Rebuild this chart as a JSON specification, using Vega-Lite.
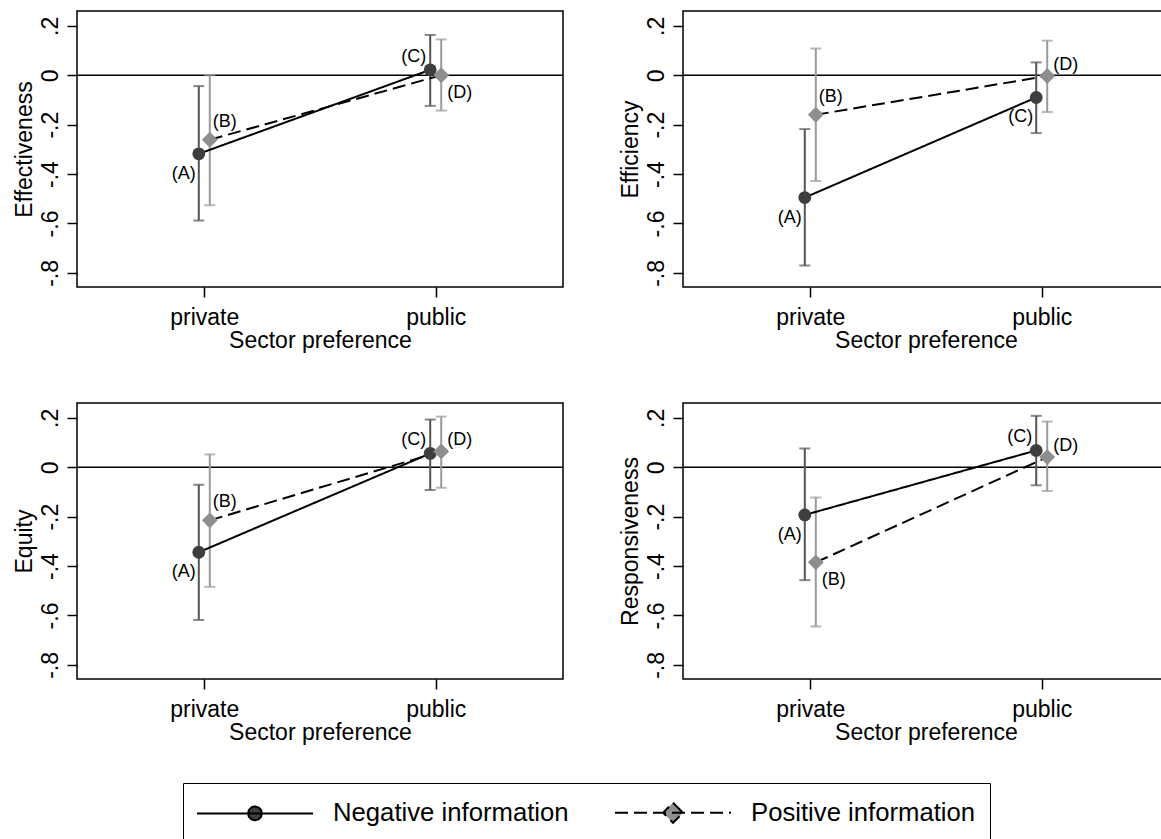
{
  "$schema": "https://vega.github.io/schema/vega-lite/v6.json",
  "padding": {"left": 12, "top": 10, "right": 0, "bottom": 0},
  "background": "white",
  "data": {"values": [
    {"panel": "Effectiveness", "sector": "private", "series": "Negative information", "est": -0.318, "lo": -0.588, "hi": -0.044, "lab": "(A)", "pos": "SW"},
    {"panel": "Effectiveness", "sector": "private", "series": "Positive information", "est": -0.261, "lo": -0.526, "hi": 0.0, "lab": "(B)", "pos": "NE"},
    {"panel": "Effectiveness", "sector": "public", "series": "Negative information", "est": 0.022, "lo": -0.124, "hi": 0.163, "lab": "(C)", "pos": "NW"},
    {"panel": "Effectiveness", "sector": "public", "series": "Positive information", "est": 0.0, "lo": -0.143, "hi": 0.145, "lab": "(D)", "pos": "SE"},
    {"panel": "Efficiency", "sector": "private", "series": "Negative information", "est": -0.495, "lo": -0.77, "hi": -0.218, "lab": "(A)", "pos": "SW"},
    {"panel": "Efficiency", "sector": "private", "series": "Positive information", "est": -0.16, "lo": -0.428, "hi": 0.108, "lab": "(B)", "pos": "NE"},
    {"panel": "Efficiency", "sector": "public", "series": "Negative information", "est": -0.09, "lo": -0.234, "hi": 0.052, "lab": "(C)", "pos": "SW"},
    {"panel": "Efficiency", "sector": "public", "series": "Positive information", "est": -0.003, "lo": -0.149, "hi": 0.14, "lab": "(D)", "pos": "E"},
    {"panel": "Equity", "sector": "private", "series": "Negative information", "est": -0.344, "lo": -0.618, "hi": -0.071, "lab": "(A)", "pos": "SW"},
    {"panel": "Equity", "sector": "private", "series": "Positive information", "est": -0.215, "lo": -0.484, "hi": 0.052, "lab": "(B)", "pos": "NE"},
    {"panel": "Equity", "sector": "public", "series": "Negative information", "est": 0.056, "lo": -0.092, "hi": 0.193, "lab": "(C)", "pos": "NW"},
    {"panel": "Equity", "sector": "public", "series": "Positive information", "est": 0.064, "lo": -0.083, "hi": 0.205, "lab": "(D)", "pos": "E"},
    {"panel": "Responsiveness", "sector": "private", "series": "Negative information", "est": -0.193, "lo": -0.457, "hi": 0.076, "lab": "(A)", "pos": "SW"},
    {"panel": "Responsiveness", "sector": "private", "series": "Positive information", "est": -0.385, "lo": -0.645, "hi": -0.122, "lab": "(B)", "pos": "SE"},
    {"panel": "Responsiveness", "sector": "public", "series": "Negative information", "est": 0.068, "lo": -0.073, "hi": 0.208, "lab": "(C)", "pos": "NW"},
    {"panel": "Responsiveness", "sector": "public", "series": "Positive information", "est": 0.041, "lo": -0.096, "hi": 0.185, "lab": "(D)", "pos": "E"}
  ]},
  "vconcat": [
    {"hconcat": [
      {"width": 486, "height": 276, "transform": [{"filter": "datum.panel === 'Effectiveness'"}],
       "layer": [
        {"transform": [{"filter": "datum.lab === '(A)'"}], "mark": {"type": "rule", "color": "black", "strokeWidth": 1.5}, "encoding": {"y": {"datum": 0, "type": "quantitative"}}},
        {"mark": {"type": "rule", "strokeWidth": 2, "xOffset": {"expr": "datum.series === 'Negative information' ? -5.5 : 5.5"}}, "encoding": {"x": {"field": "sector", "type": "nominal", "scale": {"type": "point", "padding": 0.55, "domain": ["private", "public"]}, "axis": {"title": "Sector preference"}}, "y": {"field": "lo", "type": "quantitative", "scale": {"domain": [-0.857, 0.26], "nice": false, "zero": false}, "axis": {"title": "Effectiveness"}}, "y2": {"field": "hi"}, "stroke": {"field": "series", "type": "nominal", "scale": {"range": ["#555555", "#9a9a9a"]}, "legend": null}}},
        {"mark": {"type": "tick", "orient": "horizontal", "size": 11, "thickness": 2, "xOffset": {"expr": "datum.series === 'Negative information' ? -5.5 : 5.5"}}, "encoding": {"x": {"field": "sector", "type": "nominal"}, "y": {"field": "lo", "type": "quantitative"}, "color": {"field": "series", "type": "nominal", "scale": {"range": ["#555555", "#9a9a9a"]}, "legend": null}}},
        {"mark": {"type": "tick", "orient": "horizontal", "size": 11, "thickness": 2, "xOffset": {"expr": "datum.series === 'Negative information' ? -5.5 : 5.5"}}, "encoding": {"x": {"field": "sector", "type": "nominal"}, "y": {"field": "hi", "type": "quantitative"}, "color": {"field": "series", "type": "nominal", "legend": null}}},
        {"mark": {"type": "line", "color": "black", "strokeWidth": 2, "xOffset": {"expr": "datum.series === 'Negative information' ? -5.5 : 5.5"}}, "encoding": {"x": {"field": "sector", "type": "nominal"}, "y": {"field": "est", "type": "quantitative"}, "strokeDash": {"field": "series", "type": "nominal", "scale": {"domain": ["Negative information", "Positive information"], "range": [[1, 0], [13, 6]]}, "legend": {
          "orient": "none", "legendX": 106, "legendY": 772, "direction": "horizontal", "title": null,
          "strokeColor": "black", "fillColor": "white", "padding": 14, "labelFontSize": 25.7, "labelFont": "Liberation Sans", "labelColor": "black", "labelLimit": 0,
          "symbolSize": 841, "symbolOffset": 42.5, "labelOffset": 62.5, "columnPadding": 42, "symbolStrokeWidth": 2, "symbolStrokeColor": "black",
          "encoding": {"symbols": {
            "shape": {"value": {"expr": "datum.value === 'Negative information' ? 'M-4,0H4M0.48,0L0.416,0.24L0.24,0.416L0,0.48L-0.24,0.416L-0.416,0.24L-0.48,0L-0.416,-0.24L-0.24,-0.416L0,-0.48L0.24,-0.416L0.416,-0.24Z' : 'M-4,0H4M0,-0.69L0.69,0L0,0.69L-0.69,0Z'"}},
            "fill": {"value": {"expr": "datum.value === 'Negative information' ? '#3e3e3e' : '#8e8e8e'"}},
            "stroke": {"value": "black"},
            "strokeWidth": {"value": 2},
            "opacity": {"value": 1}
          }}
        }}}},
        {"mark": {"type": "point", "filled": true, "opacity": 1, "strokeWidth": 0, "xOffset": {"expr": "datum.series === 'Negative information' ? -5.5 : 5.5"}}, "encoding": {"x": {"field": "sector", "type": "nominal"}, "y": {"field": "est", "type": "quantitative"}, "shape": {"field": "series", "type": "nominal", "scale": {"range": ["circle", "diamond"]}, "legend": null}, "fill": {"field": "series", "type": "nominal", "scale": {"range": ["#3e3e3e", "#8e8e8e"]}, "legend": null}, "size": {"field": "series", "type": "ordinal", "scale": {"range": [165, 250]}, "legend": null}}},
        {"transform": [{"filter": "datum.pos === 'SW'"}], "mark": {"type": "text", "align": "right", "baseline": "middle", "dx": -3, "dy": 20, "fontSize": 18, "xOffset": {"expr": "datum.series === 'Negative information' ? -5.5 : 5.5"}}, "encoding": {"x": {"field": "sector", "type": "nominal"}, "y": {"field": "est", "type": "quantitative"}, "text": {"field": "lab"}}},
        {"transform": [{"filter": "datum.pos === 'NE'"}], "mark": {"type": "text", "align": "left", "baseline": "middle", "dx": 3, "dy": -18, "fontSize": 18, "xOffset": {"expr": "datum.series === 'Negative information' ? -5.5 : 5.5"}}, "encoding": {"x": {"field": "sector", "type": "nominal"}, "y": {"field": "est", "type": "quantitative"}, "text": {"field": "lab"}}},
        {"transform": [{"filter": "datum.pos === 'E'"}], "mark": {"type": "text", "align": "left", "baseline": "middle", "dx": 6, "dy": -11, "fontSize": 18, "xOffset": {"expr": "datum.series === 'Negative information' ? -5.5 : 5.5"}}, "encoding": {"x": {"field": "sector", "type": "nominal"}, "y": {"field": "est", "type": "quantitative"}, "text": {"field": "lab"}}},
        {"transform": [{"filter": "datum.pos === 'NW'"}], "mark": {"type": "text", "align": "right", "baseline": "middle", "dx": -4, "dy": -13, "fontSize": 18, "xOffset": {"expr": "datum.series === 'Negative information' ? -5.5 : 5.5"}}, "encoding": {"x": {"field": "sector", "type": "nominal"}, "y": {"field": "est", "type": "quantitative"}, "text": {"field": "lab"}}},
        {"transform": [{"filter": "datum.pos === 'SE'"}], "mark": {"type": "text", "align": "left", "baseline": "middle", "dx": 6, "dy": 18, "fontSize": 18, "xOffset": {"expr": "datum.series === 'Negative information' ? -5.5 : 5.5"}}, "encoding": {"x": {"field": "sector", "type": "nominal"}, "y": {"field": "est", "type": "quantitative"}, "text": {"field": "lab"}}}
       ]},
      {"width": 486, "height": 276, "transform": [{"filter": "datum.panel === 'Efficiency'"}],
       "layer": [
        {"transform": [{"filter": "datum.lab === '(A)'"}], "mark": {"type": "rule", "color": "black", "strokeWidth": 1.5}, "encoding": {"y": {"datum": 0, "type": "quantitative"}}},
        {"mark": {"type": "rule", "strokeWidth": 2, "xOffset": {"expr": "datum.series === 'Negative information' ? -5.5 : 5.5"}}, "encoding": {"x": {"field": "sector", "type": "nominal", "scale": {"type": "point", "padding": 0.55, "domain": ["private", "public"]}, "axis": {"title": "Sector preference"}}, "y": {"field": "lo", "type": "quantitative", "scale": {"domain": [-0.857, 0.26], "nice": false, "zero": false}, "axis": {"title": "Efficiency"}}, "y2": {"field": "hi"}, "stroke": {"field": "series", "type": "nominal", "legend": null}}},
        {"mark": {"type": "tick", "orient": "horizontal", "size": 11, "thickness": 2, "xOffset": {"expr": "datum.series === 'Negative information' ? -5.5 : 5.5"}}, "encoding": {"x": {"field": "sector", "type": "nominal"}, "y": {"field": "lo", "type": "quantitative"}, "color": {"field": "series", "type": "nominal", "legend": null}}},
        {"mark": {"type": "tick", "orient": "horizontal", "size": 11, "thickness": 2, "xOffset": {"expr": "datum.series === 'Negative information' ? -5.5 : 5.5"}}, "encoding": {"x": {"field": "sector", "type": "nominal"}, "y": {"field": "hi", "type": "quantitative"}, "color": {"field": "series", "type": "nominal", "legend": null}}},
        {"mark": {"type": "line", "color": "black", "strokeWidth": 2, "xOffset": {"expr": "datum.series === 'Negative information' ? -5.5 : 5.5"}}, "encoding": {"x": {"field": "sector", "type": "nominal"}, "y": {"field": "est", "type": "quantitative"}, "strokeDash": {"field": "series", "type": "nominal", "legend": null}}},
        {"mark": {"type": "point", "filled": true, "opacity": 1, "strokeWidth": 0, "xOffset": {"expr": "datum.series === 'Negative information' ? -5.5 : 5.5"}}, "encoding": {"x": {"field": "sector", "type": "nominal"}, "y": {"field": "est", "type": "quantitative"}, "shape": {"field": "series", "type": "nominal", "legend": null}, "fill": {"field": "series", "type": "nominal", "legend": null}, "size": {"field": "series", "type": "ordinal", "legend": null}}},
        {"transform": [{"filter": "datum.pos === 'SW'"}], "mark": {"type": "text", "align": "right", "baseline": "middle", "dx": -3, "dy": 20, "fontSize": 18, "xOffset": {"expr": "datum.series === 'Negative information' ? -5.5 : 5.5"}}, "encoding": {"x": {"field": "sector", "type": "nominal"}, "y": {"field": "est", "type": "quantitative"}, "text": {"field": "lab"}}},
        {"transform": [{"filter": "datum.pos === 'NE'"}], "mark": {"type": "text", "align": "left", "baseline": "middle", "dx": 3, "dy": -18, "fontSize": 18, "xOffset": {"expr": "datum.series === 'Negative information' ? -5.5 : 5.5"}}, "encoding": {"x": {"field": "sector", "type": "nominal"}, "y": {"field": "est", "type": "quantitative"}, "text": {"field": "lab"}}},
        {"transform": [{"filter": "datum.pos === 'E'"}], "mark": {"type": "text", "align": "left", "baseline": "middle", "dx": 6, "dy": -11, "fontSize": 18, "xOffset": {"expr": "datum.series === 'Negative information' ? -5.5 : 5.5"}}, "encoding": {"x": {"field": "sector", "type": "nominal"}, "y": {"field": "est", "type": "quantitative"}, "text": {"field": "lab"}}},
        {"transform": [{"filter": "datum.pos === 'NW'"}], "mark": {"type": "text", "align": "right", "baseline": "middle", "dx": -4, "dy": -13, "fontSize": 18, "xOffset": {"expr": "datum.series === 'Negative information' ? -5.5 : 5.5"}}, "encoding": {"x": {"field": "sector", "type": "nominal"}, "y": {"field": "est", "type": "quantitative"}, "text": {"field": "lab"}}},
        {"transform": [{"filter": "datum.pos === 'SE'"}], "mark": {"type": "text", "align": "left", "baseline": "middle", "dx": 6, "dy": 18, "fontSize": 18, "xOffset": {"expr": "datum.series === 'Negative information' ? -5.5 : 5.5"}}, "encoding": {"x": {"field": "sector", "type": "nominal"}, "y": {"field": "est", "type": "quantitative"}, "text": {"field": "lab"}}}
       ]}
    ], "spacing": 53},
    {"hconcat": [
      {"width": 486, "height": 276, "transform": [{"filter": "datum.panel === 'Equity'"}],
       "layer": [
        {"transform": [{"filter": "datum.lab === '(A)'"}], "mark": {"type": "rule", "color": "black", "strokeWidth": 1.5}, "encoding": {"y": {"datum": 0, "type": "quantitative"}}},
        {"mark": {"type": "rule", "strokeWidth": 2, "xOffset": {"expr": "datum.series === 'Negative information' ? -5.5 : 5.5"}}, "encoding": {"x": {"field": "sector", "type": "nominal", "scale": {"type": "point", "padding": 0.55, "domain": ["private", "public"]}, "axis": {"title": "Sector preference"}}, "y": {"field": "lo", "type": "quantitative", "scale": {"domain": [-0.857, 0.26], "nice": false, "zero": false}, "axis": {"title": "Equity"}}, "y2": {"field": "hi"}, "stroke": {"field": "series", "type": "nominal", "legend": null}}},
        {"mark": {"type": "tick", "orient": "horizontal", "size": 11, "thickness": 2, "xOffset": {"expr": "datum.series === 'Negative information' ? -5.5 : 5.5"}}, "encoding": {"x": {"field": "sector", "type": "nominal"}, "y": {"field": "lo", "type": "quantitative"}, "color": {"field": "series", "type": "nominal", "legend": null}}},
        {"mark": {"type": "tick", "orient": "horizontal", "size": 11, "thickness": 2, "xOffset": {"expr": "datum.series === 'Negative information' ? -5.5 : 5.5"}}, "encoding": {"x": {"field": "sector", "type": "nominal"}, "y": {"field": "hi", "type": "quantitative"}, "color": {"field": "series", "type": "nominal", "legend": null}}},
        {"mark": {"type": "line", "color": "black", "strokeWidth": 2, "xOffset": {"expr": "datum.series === 'Negative information' ? -5.5 : 5.5"}}, "encoding": {"x": {"field": "sector", "type": "nominal"}, "y": {"field": "est", "type": "quantitative"}, "strokeDash": {"field": "series", "type": "nominal", "legend": null}}},
        {"mark": {"type": "point", "filled": true, "opacity": 1, "strokeWidth": 0, "xOffset": {"expr": "datum.series === 'Negative information' ? -5.5 : 5.5"}}, "encoding": {"x": {"field": "sector", "type": "nominal"}, "y": {"field": "est", "type": "quantitative"}, "shape": {"field": "series", "type": "nominal", "legend": null}, "fill": {"field": "series", "type": "nominal", "legend": null}, "size": {"field": "series", "type": "ordinal", "legend": null}}},
        {"transform": [{"filter": "datum.pos === 'SW'"}], "mark": {"type": "text", "align": "right", "baseline": "middle", "dx": -3, "dy": 20, "fontSize": 18, "xOffset": {"expr": "datum.series === 'Negative information' ? -5.5 : 5.5"}}, "encoding": {"x": {"field": "sector", "type": "nominal"}, "y": {"field": "est", "type": "quantitative"}, "text": {"field": "lab"}}},
        {"transform": [{"filter": "datum.pos === 'NE'"}], "mark": {"type": "text", "align": "left", "baseline": "middle", "dx": 3, "dy": -18, "fontSize": 18, "xOffset": {"expr": "datum.series === 'Negative information' ? -5.5 : 5.5"}}, "encoding": {"x": {"field": "sector", "type": "nominal"}, "y": {"field": "est", "type": "quantitative"}, "text": {"field": "lab"}}},
        {"transform": [{"filter": "datum.pos === 'E'"}], "mark": {"type": "text", "align": "left", "baseline": "middle", "dx": 6, "dy": -11, "fontSize": 18, "xOffset": {"expr": "datum.series === 'Negative information' ? -5.5 : 5.5"}}, "encoding": {"x": {"field": "sector", "type": "nominal"}, "y": {"field": "est", "type": "quantitative"}, "text": {"field": "lab"}}},
        {"transform": [{"filter": "datum.pos === 'NW'"}], "mark": {"type": "text", "align": "right", "baseline": "middle", "dx": -4, "dy": -13, "fontSize": 18, "xOffset": {"expr": "datum.series === 'Negative information' ? -5.5 : 5.5"}}, "encoding": {"x": {"field": "sector", "type": "nominal"}, "y": {"field": "est", "type": "quantitative"}, "text": {"field": "lab"}}},
        {"transform": [{"filter": "datum.pos === 'SE'"}], "mark": {"type": "text", "align": "left", "baseline": "middle", "dx": 6, "dy": 18, "fontSize": 18, "xOffset": {"expr": "datum.series === 'Negative information' ? -5.5 : 5.5"}}, "encoding": {"x": {"field": "sector", "type": "nominal"}, "y": {"field": "est", "type": "quantitative"}, "text": {"field": "lab"}}}
       ]},
      {"width": 486, "height": 276, "transform": [{"filter": "datum.panel === 'Responsiveness'"}],
       "layer": [
        {"transform": [{"filter": "datum.lab === '(A)'"}], "mark": {"type": "rule", "color": "black", "strokeWidth": 1.5}, "encoding": {"y": {"datum": 0, "type": "quantitative"}}},
        {"mark": {"type": "rule", "strokeWidth": 2, "xOffset": {"expr": "datum.series === 'Negative information' ? -5.5 : 5.5"}}, "encoding": {"x": {"field": "sector", "type": "nominal", "scale": {"type": "point", "padding": 0.55, "domain": ["private", "public"]}, "axis": {"title": "Sector preference"}}, "y": {"field": "lo", "type": "quantitative", "scale": {"domain": [-0.857, 0.26], "nice": false, "zero": false}, "axis": {"title": "Responsiveness"}}, "y2": {"field": "hi"}, "stroke": {"field": "series", "type": "nominal", "legend": null}}},
        {"mark": {"type": "tick", "orient": "horizontal", "size": 11, "thickness": 2, "xOffset": {"expr": "datum.series === 'Negative information' ? -5.5 : 5.5"}}, "encoding": {"x": {"field": "sector", "type": "nominal"}, "y": {"field": "lo", "type": "quantitative"}, "color": {"field": "series", "type": "nominal", "legend": null}}},
        {"mark": {"type": "tick", "orient": "horizontal", "size": 11, "thickness": 2, "xOffset": {"expr": "datum.series === 'Negative information' ? -5.5 : 5.5"}}, "encoding": {"x": {"field": "sector", "type": "nominal"}, "y": {"field": "hi", "type": "quantitative"}, "color": {"field": "series", "type": "nominal", "legend": null}}},
        {"mark": {"type": "line", "color": "black", "strokeWidth": 2, "xOffset": {"expr": "datum.series === 'Negative information' ? -5.5 : 5.5"}}, "encoding": {"x": {"field": "sector", "type": "nominal"}, "y": {"field": "est", "type": "quantitative"}, "strokeDash": {"field": "series", "type": "nominal", "legend": null}}},
        {"mark": {"type": "point", "filled": true, "opacity": 1, "strokeWidth": 0, "xOffset": {"expr": "datum.series === 'Negative information' ? -5.5 : 5.5"}}, "encoding": {"x": {"field": "sector", "type": "nominal"}, "y": {"field": "est", "type": "quantitative"}, "shape": {"field": "series", "type": "nominal", "legend": null}, "fill": {"field": "series", "type": "nominal", "legend": null}, "size": {"field": "series", "type": "ordinal", "legend": null}}},
        {"transform": [{"filter": "datum.pos === 'SW'"}], "mark": {"type": "text", "align": "right", "baseline": "middle", "dx": -3, "dy": 20, "fontSize": 18, "xOffset": {"expr": "datum.series === 'Negative information' ? -5.5 : 5.5"}}, "encoding": {"x": {"field": "sector", "type": "nominal"}, "y": {"field": "est", "type": "quantitative"}, "text": {"field": "lab"}}},
        {"transform": [{"filter": "datum.pos === 'NE'"}], "mark": {"type": "text", "align": "left", "baseline": "middle", "dx": 3, "dy": -18, "fontSize": 18, "xOffset": {"expr": "datum.series === 'Negative information' ? -5.5 : 5.5"}}, "encoding": {"x": {"field": "sector", "type": "nominal"}, "y": {"field": "est", "type": "quantitative"}, "text": {"field": "lab"}}},
        {"transform": [{"filter": "datum.pos === 'E'"}], "mark": {"type": "text", "align": "left", "baseline": "middle", "dx": 6, "dy": -11, "fontSize": 18, "xOffset": {"expr": "datum.series === 'Negative information' ? -5.5 : 5.5"}}, "encoding": {"x": {"field": "sector", "type": "nominal"}, "y": {"field": "est", "type": "quantitative"}, "text": {"field": "lab"}}},
        {"transform": [{"filter": "datum.pos === 'NW'"}], "mark": {"type": "text", "align": "right", "baseline": "middle", "dx": -4, "dy": -13, "fontSize": 18, "xOffset": {"expr": "datum.series === 'Negative information' ? -5.5 : 5.5"}}, "encoding": {"x": {"field": "sector", "type": "nominal"}, "y": {"field": "est", "type": "quantitative"}, "text": {"field": "lab"}}},
        {"transform": [{"filter": "datum.pos === 'SE'"}], "mark": {"type": "text", "align": "left", "baseline": "middle", "dx": 6, "dy": 18, "fontSize": 18, "xOffset": {"expr": "datum.series === 'Negative information' ? -5.5 : 5.5"}}, "encoding": {"x": {"field": "sector", "type": "nominal"}, "y": {"field": "est", "type": "quantitative"}, "text": {"field": "lab"}}}
       ]}
    ], "spacing": 53}
  ],
  "spacing": 49,
  "config": {
    "font": "Liberation Sans",
    "view": {"stroke": "black", "strokeWidth": 1.5},
    "text": {"color": "black", "font": "Liberation Sans"},
    "axis": {"grid": false, "domain": false, "tickColor": "black", "tickWidth": 1.5, "tickSize": 10, "labelColor": "black", "titleColor": "black", "labelFontSize": 23, "titleFontSize": 23, "titleFontWeight": "normal", "labelFont": "Liberation Sans", "titleFont": "Liberation Sans", "labelOverlap": false, "labelFlush": false},
    "axisX": {"labelPadding": 9, "titlePadding": 0, "labelAngle": 0},
    "axisY": {"labelAngle": 270, "labelAlign": "center", "labelBaseline": "alphabetic", "labelPadding": 10, "titlePadding": 3, "values": [-0.8, -0.6, -0.4, -0.2, 0, 0.2], "labelExpr": "datum.value == 0 ? '0' : replace(replace(format(datum.value, '.1f'), '\u2212', '-'), '0.', '.')"}
  }
}
